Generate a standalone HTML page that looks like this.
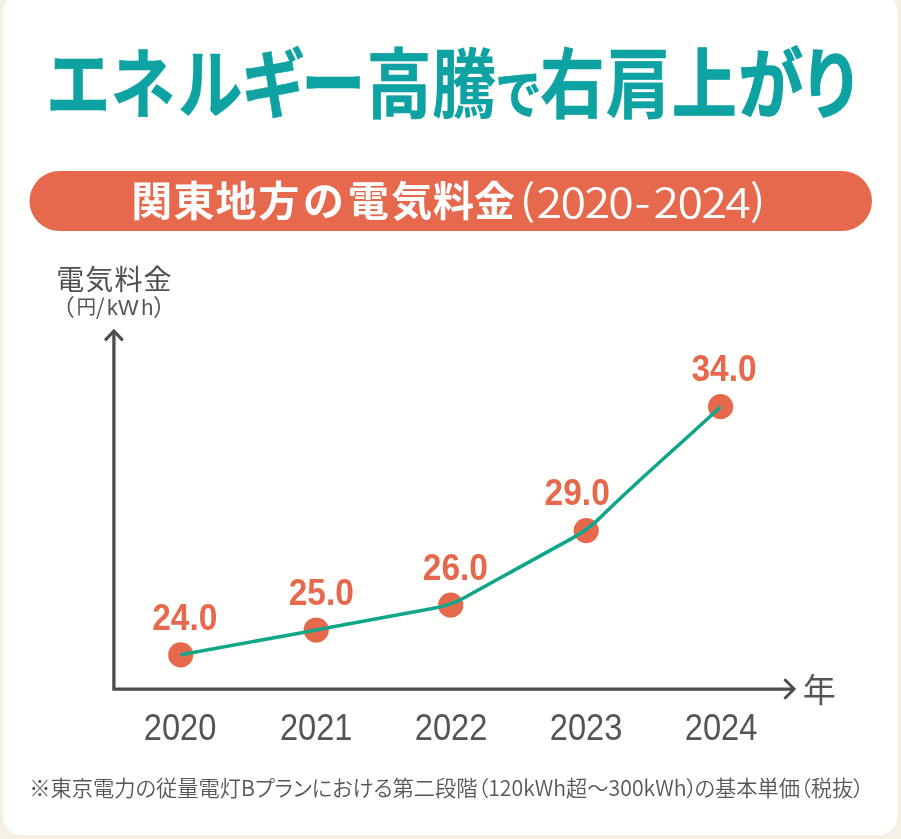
<!DOCTYPE html>
<html lang="ja">
<head>
<meta charset="utf-8">
<title>エネルギー高騰で右肩上がり</title>
<style>
html,body{margin:0;padding:0;background:#f4f1e4;}
body{width:901px;height:839px;overflow:hidden;position:relative;}
svg{position:absolute;left:0;top:0;display:block;}
text{font-family:"Liberation Sans","Noto Sans CJK JP",sans-serif;}
.jp{font-family:"Noto Sans CJK JP","Liberation Sans",sans-serif;}
.ttl{font-family:"Noto Sans CJK JP","Liberation Sans",sans-serif;font-weight:700;fill:#0ea2a3;stroke:#0ea2a3;stroke-width:0.5px;stroke-linejoin:round;}
.s0{stroke-width:0;}
.s1{stroke-width:0.8px;}
.s2{stroke-width:1.3px;}
.rng{font-family:"Noto Sans CJK JP","Liberation Sans",sans-serif;font-weight:350;font-size:41.5px;fill:#fff;}
.lat{font-family:"Liberation Sans",sans-serif;}
.val{font-family:"Liberation Sans",sans-serif;font-weight:700;font-size:36.6px;fill:#e7694d;}
.yr{font-family:"Liberation Sans",sans-serif;font-weight:400;font-size:37.5px;fill:#555;}
</style>
</head>
<body>
<svg width="901" height="839" viewBox="0 0 901 839">
  <rect x="0" y="0" width="901" height="839" fill="#f4f1e4"/>
  <rect x="3" y="-6" width="894.6" height="841.1" rx="19" ry="19" fill="#fffffe"/>

  <!-- title -->
  <g transform="translate(0,112) scale(0.85,1)"><text class="ttl" x="54.1 129.9 209.4 283.5 354.1 431.5 508.2 582.9 635.3 712.9 790.6 868.8 940.0" y="0" font-size="76">エネルギー高<tspan class="s0">騰</tspan><tspan class="s1" font-size="54" dy="1.8">で</tspan><tspan dy="-1.8">右</tspan>肩<tspan class="s2">上がり</tspan></text></g>

  <!-- banner -->
  <rect x="29.5" y="171" width="842.5" height="60" rx="30" ry="30" fill="#e7694d"/>
  <text class="jp" x="131.3 173.6 215.5 258.2 303.0 347.8 391.2 433.1 474.0" y="216" font-size="41" font-weight="700" fill="#fff">関東地方の電気料金</text>
  <g transform="translate(0,217.5) scale(1.12,1)"><text class="rng" x="464.11 479.11 500.45 521.79 543.12 566.52 583.57 604.91 626.25 647.59 669.64" y="0"><tspan dy="-2.5">(</tspan><tspan dy="2.5">2</tspan>020-2024<tspan dy="-2.5">)</tspan></text></g>

  <!-- y label -->
  <text class="jp" x="56.2" y="289.7" font-size="28" fill="#505050" letter-spacing="1.1">電気料金</text>
  <text class="jp" x="51.7 76.6 96 107 117.9 141.2 153" y="316" font-size="23" fill="#555">（<tspan font-size="19.6" dy="-2">円</tspan><tspan font-size="22" dy="0.8">/</tspan><tspan class="lat" font-size="21.8" dy="0.4">kWh</tspan><tspan dy="0.8">）</tspan></text>

  <!-- axes -->
  <g fill="none" stroke="#4c4c4c" stroke-width="3.3">
    <path d="M113.9 331.5 V689.2 H793"/>
    <path d="M105.1 340.4 L113.9 331 L122.7 340.4" stroke-width="3.1" stroke-linejoin="miter"/>
    <path d="M784.4 679.3 L794.1 689 L784.4 698.7" stroke-width="2.9" stroke-linejoin="miter"/>
  </g>
  <text class="jp" x="802.7" y="702.1" font-size="33" fill="#555">年</text>

  <!-- points -->
  <g fill="#e7694d">
    <circle cx="180.7" cy="654.8" r="12.6"/>
    <circle cx="316.2" cy="630" r="12.6"/>
    <circle cx="450.7" cy="605.2" r="12.6"/>
    <circle cx="586.2" cy="530.6" r="12.6"/>
    <circle cx="720.6" cy="406.7" r="12.6"/>
  </g>
  <path d="M180.7 654.8 L300.5 632.9 Q316.2 630.0 331.9 627.1 L435.0 608.1 Q450.7 605.2 464.7 597.5 L572.0 538.4 Q586.0 530.7 597.8 519.9 C637.5 480.8 679.9 444.7 720.6 406.7" fill="none" stroke="#10a68a" stroke-width="3.6" stroke-linejoin="round"/>

  <!-- value labels -->
  <g text-anchor="middle">
    <text class="val" transform="translate(184.75,630.1) scale(0.915,1)">24.0</text>
    <text class="val" transform="translate(321.3,605.1) scale(0.915,1)">25.0</text>
    <text class="val" transform="translate(455.4,579.5) scale(0.915,1)">26.0</text>
    <text class="val" transform="translate(577.2,505.1) scale(0.915,1)">29.0</text>
    <text class="val" transform="translate(724,380.5) scale(0.915,1)">34.0</text>
  </g>

  <!-- years -->
  <g text-anchor="middle">
    <text class="yr" transform="translate(180.05,739.7) scale(0.87,1)">2020</text>
    <text class="yr" transform="translate(316.15,739.7) scale(0.87,1)">2021</text>
    <text class="yr" transform="translate(451.1,739.7) scale(0.87,1)">2022</text>
    <text class="yr" transform="translate(586.1,739.7) scale(0.87,1)">2023</text>
    <text class="yr" transform="translate(721.1,739.7) scale(0.87,1)">2024</text>
  </g>

  <!-- footnote -->
  <text class="jp" x="29.2" y="796.3" font-size="21.27" font-weight="350" fill="#575757" style="font-feature-settings:'palt'">※東京電力の従量電灯Bプランにおける第二段階（120kWh超～300kWh）<tspan dx="-2.6">の</tspan>基本単価（税抜）</text>
</svg>
</body>
</html>
